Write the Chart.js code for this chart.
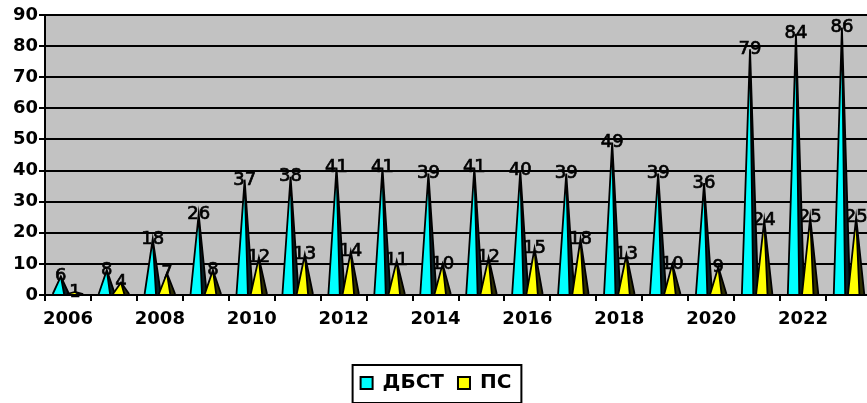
<!DOCTYPE html>
<html>
<head>
<meta charset="utf-8">
<script src="https://cdn.jsdelivr.net/npm/chart.js@4.4.0/dist/chart.umd.min.js"></script>
<style>
	html, body { margin: 0; padding: 0; background: #fff; overflow: hidden; }
	#wrap { width: 880px; height: 403px; }
</style>
</head>
<body>
<div id="wrap"><canvas id="chart" width="880" height="403"></canvas></div>
<script>
// data
const years = ['2006', '2007', '2008', '2009', '2010', '2011', '2012', '2013', '2014',
	'2015', '2016', '2017', '2018', '2019', '2020', '2021', '2022', '2023'];
const dbst = [6, 8, 18, 26, 37, 38, 41, 41, 39, 41, 40, 39, 49, 39, 36, 79, 84, 86];
const ps = [1, 4, 7, 8, 12, 13, 14, 11, 10, 12, 15, 18, 13, 10, 9, 24, 25, 25];
const yTicks = [0, 10, 20, 30, 40, 50, 60, 70, 80, 90];

const faceColors = ['#00ffff', '#ffff00'];
const sideColors = ['#061e24', '#2e2e00'];

// cones instead of flat bars, drawn from the bar elements
const conePlugin = {
	id: 'cones',
	beforeDraw(chart) {
		const a = chart.chartArea;
		const ctx = chart.ctx;
		ctx.save();
		ctx.fillStyle = '#c2c2c2';
		ctx.fillRect(a.left, a.top, a.right - a.left, a.bottom - a.top);
		ctx.strokeStyle = '#808080';
		ctx.lineWidth = 1;
		ctx.beginPath();
		ctx.moveTo(a.left, a.top + 0.5);
		ctx.lineTo(a.right, a.top + 0.5);
		ctx.stroke();
		ctx.restore();
	},
	beforeDatasetsDraw(chart) {
		const ctx = chart.ctx;
		const metas = [chart.getDatasetMeta(0), chart.getDatasetMeta(1)];
		ctx.save();
		// value labels sit under the tips
		ctx.fillStyle = '#000';
		ctx.strokeStyle = '#000';
		ctx.lineWidth = 0.7;
		ctx.font = '18px "DejaVu Sans"';
		ctx.textAlign = 'center';
		ctx.textBaseline = 'middle';
		metas.forEach((meta, d) => {
			const values = d === 0 ? dbst : ps;
			meta.data.forEach((el, i) => {
				ctx.fillText(values[i], el.x, el.y);
				ctx.strokeText(values[i], el.x, el.y);
			});
		});
		for (let i = 0; i < years.length; i++) {
			metas.forEach((meta, d) => {
				const el = meta.data[i];
				const half = el.width * 0.57;
				const left = el.x - half, right = el.x + half;
				const split = el.x + half * 0.4;
				// front face
				ctx.fillStyle = faceColors[d];
				ctx.beginPath();
				ctx.moveTo(left, el.base);
				ctx.lineTo(el.x, el.y);
				ctx.lineTo(split, el.base);
				ctx.closePath();
				ctx.fill();
				// dark side
				ctx.fillStyle = sideColors[d];
				ctx.beginPath();
				ctx.moveTo(split, el.base);
				ctx.lineTo(el.x, el.y);
				ctx.lineTo(right, el.base);
				ctx.closePath();
				ctx.fill();
				// outline
				ctx.strokeStyle = '#000';
				ctx.lineWidth = 1.8;
				ctx.lineJoin = 'miter';
				ctx.beginPath();
				ctx.moveTo(left, el.base);
				ctx.lineTo(el.x, el.y);
				ctx.lineTo(right, el.base);
				ctx.moveTo(el.x, el.y);
				ctx.lineTo(split, el.base);
				ctx.stroke();
			});
		}
		ctx.restore();
		return false;
	},
	afterDraw(chart) {
		// frame round the legend
		const boxes = chart.legend.legendHitBoxes;
		if (!boxes || !boxes.length) return;
		const first = boxes[0], last = boxes[boxes.length - 1];
		const ctx = chart.ctx;
		ctx.save();
		ctx.strokeStyle = '#000';
		ctx.lineWidth = 2;
		ctx.strokeRect(first.left - 8, first.top - 8, last.left + last.width - first.left + 18, first.height + 18);
		ctx.restore();
	}
};

new Chart(document.getElementById('chart'), {
	type: 'bar',
	data: {
		labels: years,
		datasets: [
			{ label: 'ДБСТ', data: dbst, backgroundColor: faceColors[0], borderColor: '#000', borderWidth: 2 },
			{ label: 'ПС', data: ps, backgroundColor: faceColors[1], borderColor: '#000', borderWidth: 2 }
		]
	},
	options: {
		responsive: false,
		animation: false,
		categoryPercentage: 0.62,
		barPercentage: 1.0,
		layout: { padding: { top: 15, right: 8, bottom: 0, left: 0 } },
		plugins: {
			tooltip: { enabled: false },
			legend: {
				position: 'bottom',
				labels: {
					color: '#000',
					font: { family: 'DejaVu Sans', size: 20, weight: 'bold' },
					boxWidth: 12,
					boxHeight: 12,
					padding: 14
				}
			}
		},
		scales: {
			x: {
				grid: { drawOnChartArea: false, offset: true, color: '#000', tickLength: 6, lineWidth: 2 },
				border: { color: '#000', width: 2 },
				ticks: {
					color: '#000',
					autoSkip: false,
					maxRotation: 0,
					padding: 8,
					font: { family: 'DejaVu Sans', size: 18, weight: 'bold' },
					callback: (v, i) => i % 2 === 0 ? years[i] : ''
				},
				afterFit(scale) { scale.height = 64; }
			},
			y: {
				min: yTicks[0],
				max: yTicks[yTicks.length - 1],
				afterBuildTicks(scale) { scale.ticks = yTicks.map(v => ({ value: v })); },
				grid: { color: '#000', lineWidth: 2, tickLength: 6 },
				border: { color: '#000', width: 2 },
				ticks: {
					color: '#000',
					padding: 1,
					font: { family: 'DejaVu Sans', size: 18, weight: 'bold' }
				},
				afterFit(scale) { scale.width = 45; }
			}
		}
	},
	plugins: [conePlugin]
});
</script>
</body>
</html>
